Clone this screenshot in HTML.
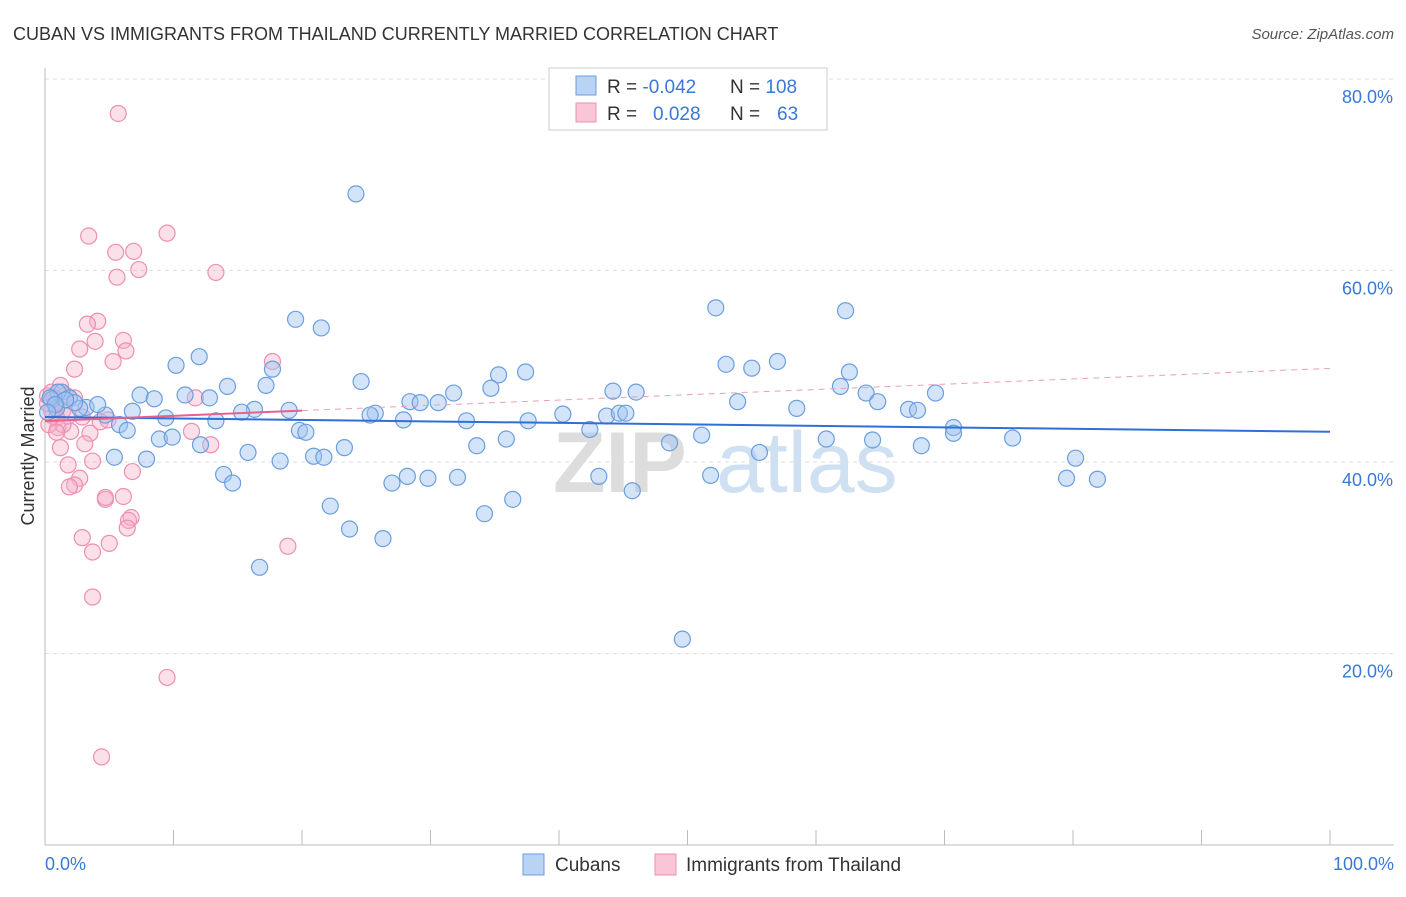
<!DOCTYPE html>
<html><head><meta charset="utf-8"><style>
body{margin:0;background:#fff;font-family:"Liberation Sans",sans-serif;}
svg text{font-family:"Liberation Sans",sans-serif;}
</style></head><body>
<svg id="chart" width="1406" height="892" viewBox="0 0 1406 892" xmlns="http://www.w3.org/2000/svg">
<text x="13" y="40" font-size="18" fill="#333">CUBAN VS IMMIGRANTS FROM THAILAND CURRENTLY MARRIED CORRELATION CHART</text>
<text x="1394" y="39" font-size="15" fill="#555" font-style="italic" text-anchor="end">Source: ZipAtlas.com</text>
<g><text x="553" y="492" font-size="86" fill="#ddd" font-family="Liberation Serif,serif" font-weight="bold">ZIP</text><text x="716" y="492" font-size="86" fill="#cfe0f3">atlas</text></g>
<g id="grid"></g>
<g id="axes"></g>
<text transform="translate(34,456) rotate(-90)" font-size="18" fill="#333" text-anchor="middle">Currently Married</text>
<g id="pink"></g>
<g id="blue"></g>
<g id="trends"></g>
<g>
<rect x="549" y="68" width="278" height="62" fill="#fff" stroke="#ccc"/>
<rect x="576" y="76" width="20" height="19" fill="#b9d3f5" stroke="#6a9ee0"/>
<rect x="576" y="103" width="20" height="19" fill="#fac6d7" stroke="#ee8fb0"/>
<text x="607" y="93" font-size="19" fill="#333">R = <tspan fill="#3a78d8">-0.042</tspan></text>
<text x="730" y="93" font-size="19" fill="#333">N = <tspan fill="#3a78d8">108</tspan></text>
<text x="607" y="120" font-size="19" fill="#333">R = <tspan fill="#3a78d8" x="653">0.028</tspan></text>
<text x="730" y="120" font-size="19" fill="#333">N = <tspan fill="#3a78d8" x="777">63</tspan></text>
</g>
<g>
<rect x="523" y="854" width="21" height="21" fill="#b9d3f5" stroke="#6a9ee0"/>
<text x="555" y="871" font-size="19" fill="#333">Cubans</text>
<rect x="655" y="854" width="21" height="21" fill="#fac6d7" stroke="#ee8fb0"/>
<text x="686" y="871" font-size="19" fill="#333">Immigrants from Thailand</text>
</g>
</svg>
<script>
const yTicks=[20,40,60,80];
const yTickLabels=["20.0%","40.0%","60.0%","80.0%"];
const xTickLabels=["0.0%","100.0%"];
const blueX=[24.2,52.2,62.3,19.5,21.5,12.0,10.2,17.7,53.0,55.0,57.0,62.6,37.4,35.3,24.6,14.2,17.2,61.9,34.7,31.8,44.2,46.0,63.9,69.3,10.9,7.4,8.5,12.8,1.3,1.9,53.9,64.8,28.4,29.2,30.6,58.5,67.2,67.9,19.0,16.3,15.3,25.7,6.8,9.4,4.7,3.2,4.1,2.7,2.3,40.3,43.7,44.7,45.2,27.9,32.8,37.6,13.3,25.3,42.4,5.8,6.4,19.8,20.3,70.7,70.7,8.9,9.9,35.9,51.1,75.3,60.8,64.4,33.6,23.3,12.1,48.6,68.2,55.6,15.8,20.9,21.7,5.4,7.9,18.3,80.2,28.2,29.8,32.1,43.1,51.8,79.5,81.9,13.9,14.6,27.0,36.4,45.7,22.2,34.2,23.7,26.3,16.7,49.6,1.0,0.5,0.9,0.4,1.6,0.8,0.2];
const blueY=[68.0,56.1,55.8,54.9,54.0,51.0,50.1,49.7,50.2,49.8,50.5,49.4,49.4,49.1,48.4,47.9,48.0,47.9,47.7,47.2,47.4,47.3,47.2,47.2,47.0,47.0,46.6,46.7,47.3,46.7,46.3,46.3,46.3,46.2,46.2,45.6,45.5,45.4,45.4,45.5,45.2,45.1,45.3,44.6,44.9,45.7,46.0,45.6,46.2,45.0,44.8,45.1,45.1,44.4,44.3,44.3,44.3,44.9,43.4,43.9,43.3,43.3,43.1,43.6,43.0,42.4,42.6,42.4,42.8,42.5,42.4,42.3,41.7,41.5,41.8,42.0,41.7,41.0,41.0,40.6,40.5,40.5,40.3,40.1,40.4,38.5,38.3,38.4,38.5,38.6,38.3,38.2,38.7,37.8,37.8,36.1,37.0,35.4,34.6,33.0,32.0,29.0,21.5,47.3,46.5,45.6,46.7,46.5,46.0,45.2];
const pinkX=[5.7,9.5,3.4,5.5,6.9,7.3,13.3,5.6,4.1,3.3,6.1,3.9,6.3,2.7,5.3,17.7,2.3,1.2,0.5,1.6,2.3,0.8,1.4,1.8,0.6,4.3,1.0,3.5,2.0,11.4,12.9,3.1,1.2,3.7,1.8,6.8,2.7,2.3,1.9,6.1,4.7,4.7,6.7,6.5,6.4,2.9,5.0,3.7,18.9,3.7,9.5,4.4,11.7,0.2,0.5,0.2,0.9,1.4,0.7,0.3,0.9,4.9,2.9];
const pinkY=[76.4,63.9,63.6,61.9,62.0,60.1,59.8,59.3,54.7,54.4,52.7,52.6,51.6,51.8,50.5,50.5,49.7,48.0,47.3,47.0,46.7,46.2,45.4,44.8,44.8,44.2,43.6,43.0,43.2,43.2,41.8,41.9,41.5,40.1,39.7,39.0,38.3,37.6,37.4,36.4,36.1,36.3,34.2,33.9,33.1,32.1,31.5,30.6,31.2,25.9,17.5,9.2,46.7,46.1,45.4,46.9,44.6,43.9,46.7,43.9,43.1,44.4,44.7];
const NS="http://www.w3.org/2000/svg";
const X0=45,X1=1330,Y0=845,YPX=9.575;
const sx=v=>X0+(X1-X0)*v/100, sy=v=>Y0-v*YPX;
function mk(tag,attrs,parent){const e=document.createElementNS(NS,tag);for(const k in attrs)e.setAttribute(k,attrs[k]);parent.appendChild(e);return e;}
const grid=document.getElementById('grid'),axes=document.getElementById('axes');
yTicks.forEach((t,i)=>{
 const l=mk('line',{x1:X0,x2:1394,y1:sy(t),y2:sy(t),stroke:'#ddd','stroke-dasharray':'4,4'},grid);
 
 
 const tx=mk('text',{x:1393,y:sy(t)+24,'font-size':18,fill:'#3a78d8','text-anchor':'end'},axes);
 tx.textContent=yTickLabels[i];
 
 
});
mk('line',{x1:X0,x2:X0,y1:68,y2:Y0,stroke:'#bbb'},axes);
mk('line',{x1:X0,x2:1394,y1:Y0,y2:Y0,stroke:'#bbb'},axes);
for(let i=0;i<=10;i++){const t=mk('line',{x1:sx(i*10),x2:sx(i*10),y1:830,y2:Y0,stroke:'#bbb'},axes);}
[[0,'start',X0],[1,'end',1394]].forEach(([i,a,x])=>{const t=mk('text',{x:x,y:870,'font-size':18,fill:'#3a78d8','text-anchor':a},axes);t.textContent=xTickLabels[i];});
function dots(xs,ys,g,fill,stroke,name){xs.forEach((x,i)=>{const c=mk('circle',{cx:sx(x),cy:sy(ys[i]),r:8,fill:fill,stroke:stroke,'stroke-width':1.2},g);});}
dots(pinkX,pinkY,document.getElementById('pink'),'rgba(246,175,200,0.4)','#ee8fb0','thailand-point');
dots(blueX,blueY,document.getElementById('blue'),'rgba(160,196,240,0.45)','#6a9ee0','cubans-point');
function reg(xs,ys){const n=xs.length;let mx=0,my=0;xs.forEach((x,i)=>{mx+=x;my+=ys[i];});mx/=n;my/=n;let sxy=0,sxx=0;xs.forEach((x,i)=>{sxy+=(x-mx)*(ys[i]-my);sxx+=(x-mx)*(x-mx);});const b=sxy/sxx;return [my-b*mx,b];}
const tr=document.getElementById('trends');
const [ba,bb]=reg(blueX,blueY);
let l=mk('line',{x1:sx(0),y1:sy(ba),x2:sx(100),y2:sy(ba+bb*100),stroke:'#2f6fd6','stroke-width':2},tr);


const [pa,pb]=reg(pinkX,pinkY);
l=mk('line',{x1:sx(0),y1:sy(pa),x2:sx(20),y2:sy(pa+pb*20),stroke:'#e8608c','stroke-width':2},tr);


l=mk('line',{x1:sx(20),y1:sy(pa+pb*20),x2:sx(100),y2:sy(pa+pb*100),stroke:'#e8a0b8','stroke-width':1,'stroke-dasharray':'6,5'},tr);


</script>
</body></html>
